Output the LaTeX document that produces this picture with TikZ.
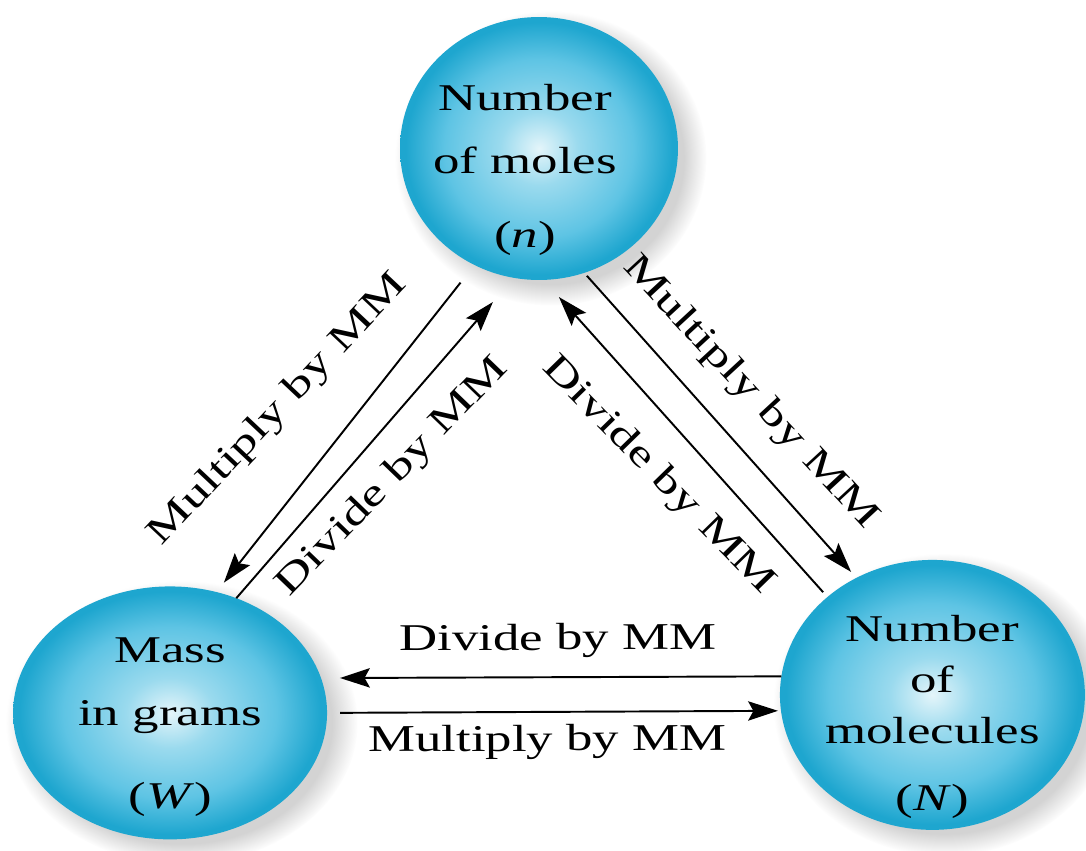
\documentclass[tikz,border=0pt]{standalone}
\usepackage{fontspec}
\setmainfont{Liberation Serif}[FakeStretch=1.4]
\usepackage{xcolor}
\usetikzlibrary{shapes.geometric, positioning, arrows.meta, shadows}

\definecolor{ballEdge}{HTML}{1EA6CF}
\definecolor{ballMid}{HTML}{5EC4E4}
\definecolor{ballCore}{HTML}{E4F5FA}
\pgfdeclareradialshading{molball}{\pgfpoint{0bp}{0bp}}{color(0bp)=(ballCore); color(7bp)=(ballMid!55!ballCore); color(17bp)=(ballMid); color(24bp)=(ballEdge); color(25bp)=(ballEdge); color(50bp)=(ballEdge)}

\begin{document}
\begin{tikzpicture}[x=0.02cm, y=-0.02cm, on grid,
    ball/.style={ellipse, shading=molball, inner sep=0pt, outer sep=0pt,
        circular drop shadow={shadow xshift=6pt, shadow yshift=-5pt, shadow scale=1.12, opacity=0.35}},
    balltext/.style={align=center, text=black, font=\fontsize{21.5}{36}\selectfont},
    conv/.style={-{Stealth[length=17pt, width=11pt, inset=3pt]}, line width=1.1pt},
    lab/.style={sloped, text=black, font=\fontsize{21.5}{26}\selectfont}]

    \useasboundingbox (0,0) rectangle (1086,850);

    \node[ball, minimum width=5.56cm, minimum height=5.26cm,
        label={[balltext, xshift=-0.28cm, yshift=-0.43cm]center:Number\\ of moles\\[6pt] (\textit{n})}]
        (moles) at (539,148.5) {};
    \node[ball, minimum width=6.28cm, minimum height=5.06cm,
        label={[balltext, yshift=-0.28cm]center:Mass\\ in grams\\[11pt] (\textit{W})}]
        (mass) [below left=11.29cm and 7.38cm of moles] {};
    \node[ball, minimum width=6.1cm, minimum height=5.4cm,
        label={[balltext, font=\fontsize{21.5}{29}\selectfont, yshift=-0.44cm]center:Number\\ of\\ molecules\\[9pt] (\textit{N})}]
        (molec) [below right=10.93cm and 7.87cm of moles] {};

    % moles <-> mass
    \path[conv]
    (moles.241.5) edge[shorten <=0.45cm, shorten >=0.24cm] node[lab, above=23pt, pos=0.57, rotate=-5] {Multiply by MM} (mass.69.9)
    (mass.60.5) edge[shorten >=0.64cm] node[lab, below=8.5pt, pos=0.46, rotate=-3] {Divide by MM} (moles.259.5);

    % moles <-> molecules
    \path[conv]
    (moles.290.9) edge[shorten <=0.08cm, shorten >=0.16cm] node[lab, above=11.5pt, pos=0.49, rotate=1] {Multiply by MM} (molec.123.2)
    (molec.137.4) edge[shorten <=0.13cm, shorten >=0.46cm] node[lab, below=12pt, pos=0.48, rotate=2.5] {Divide by MM} (moles.272.1);

    % mass <-> molecules
    \path[conv]
    (molec.173.6) edge[shorten >=0.38cm] node[lab, above=7pt, pos=0.485] {Divide by MM} (mass.13.1)
    (mass.0.7) edge[shorten <=0.26cm, shorten >=0.06cm] node[lab, below=3.5pt, pos=0.485] {Multiply by MM} (molec.186.1);

\end{tikzpicture}
\end{document}
